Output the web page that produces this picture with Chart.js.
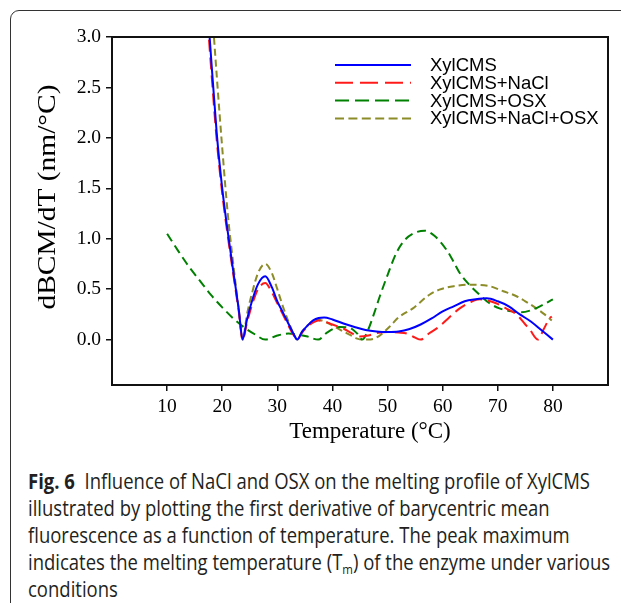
<!DOCTYPE html>
<html>
<head>
<meta charset="utf-8">
<script src="https://cdn.jsdelivr.net/npm/chart.js@4.4.1/dist/chart.umd.min.js"></script>
<style>
html,body{margin:0;padding:0;background:#fff;width:621px;height:603px;overflow:hidden;}
#frame{position:absolute;left:10px;top:10px;width:700px;height:640px;border:1px solid #333;border-radius:9px;box-sizing:border-box;}
#chartBox{position:absolute;left:0;top:0;width:621px;height:460px;}
#caption{position:absolute;left:28px;top:468px;font-family:"Open Sans",sans-serif;font-size:21px;line-height:27px;color:#231f20;white-space:nowrap;transform-origin:0 0;}
#caption div{white-space:nowrap;}
#caption sub{font-size:0.62em;line-height:0;vertical-align:-0.3em;}
</style>
</head>
<body>
<div id="frame"></div>
<div id="chartBox"><canvas id="c"></canvas></div>
<div id="caption">
<div><span id="l1"><b>Fig. 6</b>&nbsp; Influence of NaCl and OSX on the melting profile of XylCMS</span></div>
<div>illustrated by plotting the first derivative of barycentric mean</div>
<div>fluorescence as a function of temperature. The peak maximum</div>
<div>indicates the melting temperature (T<sub>m</sub>) of the enzyme under various</div>
<div>conditions</div>
</div>
<script>
// ---- data ----
const xTicks = [10, 20, 30, 40, 50, 60, 70, 80];
const yTicks = [0, 0.5, 1.0, 1.5, 2.0, 2.5, 3.0];
const seriesNames = ['XylCMS', 'XylCMS+NaCl', 'XylCMS+OSX', 'XylCMS+NaCl+OSX'];
const xTitle = 'Temperature (°C)';
const yTitle = 'dBCM/dT (nm/°C)';

const tBlue = [16,17,18,19,20,21,22,23,23.7,24.5,25.5,26.5,27.8,29,30,31,32,33,33.6,34.5,35.5,36.5,37.5,38.5,40,42,44,46,48,50,52,54,56,58,60,62,64,66,68,70,72,74,76,78,80];
const vBlue = [4.3,3.55,2.78,2.05,1.5,1.07,0.68,0.3,0.0,0.2,0.4,0.55,0.627,0.52,0.38,0.27,0.16,0.05,0.0,0.08,0.14,0.19,0.215,0.22,0.2,0.16,0.125,0.095,0.08,0.075,0.08,0.105,0.15,0.21,0.28,0.33,0.38,0.40,0.41,0.38,0.33,0.25,0.18,0.09,0.0];

const tRed = [16,17,18,19,20,21,22,23,23.7,24.5,25.5,26.5,27.8,29,30,31,32,33,33.6,34.5,35.5,36.5,37.4,38.5,40,41,42,43.4,44.9,46.5,48,50,52,53.5,55,56,57.5,59.4,61,63.1,65,66.7,68,69.7,71.5,73.4,75,75.8,77.3,78.3,79.4,79.8];
const vRed = [4.4,3.45,2.68,1.98,1.45,1.03,0.65,0.28,0.0,0.17,0.36,0.50,0.56,0.47,0.36,0.25,0.14,0.04,0.0,0.07,0.13,0.17,0.19,0.18,0.15,0.13,0.11,0.066,0.03,0.04,0.065,0.075,0.07,0.06,0.02,0.0,0.06,0.13,0.21,0.31,0.37,0.40,0.39,0.36,0.31,0.25,0.15,0.1,0.0,0.1,0.21,0.23];

const tGreen = [10,12,14,16,18,20,22,24,26,27.8,30,32,33.6,35.5,37.4,39,41.3,43,44.5,45.4,46.5,47.5,48.6,50,51.6,53,54.6,56.7,58.5,60.7,62,63.1,64.9,66.7,68.5,70.3,72.5,74.3,76,78,80];
const vGreen = [1.05,0.88,0.72,0.58,0.44,0.32,0.21,0.12,0.05,0.0,0.04,0.06,0.05,0.03,0.0,0.07,0.125,0.12,0.06,0.0,0.1,0.25,0.43,0.64,0.86,0.98,1.05,1.08,1.03,0.89,0.77,0.66,0.54,0.445,0.36,0.31,0.28,0.27,0.29,0.34,0.40];

const tOlive = [17,18,19,20,21,22,23,23.7,24.5,25.5,26.5,27.8,29,30,31,32,33,33.6,34.5,35.5,36.3,37.1,38.5,40.7,42,43.1,44.5,45.3,46.5,48,50.4,52,54.6,57.6,59.4,62,64.9,68.5,71,73.4,75,77,78.5,79.8];
const vOlive = [4.3,3.4,2.62,1.9,1.25,0.75,0.3,0.0,0.25,0.48,0.66,0.75,0.66,0.50,0.33,0.18,0.05,0.0,0.08,0.14,0.18,0.2,0.18,0.12,0.08,0.05,0.01,0.0,0.0,0.02,0.13,0.22,0.31,0.445,0.495,0.53,0.545,0.53,0.48,0.43,0.38,0.31,0.25,0.19];

// ---- build ----
const zip = (xs, ys) => xs.map((x, i) => ({x: x, y: ys[i]}));
const colors = ['#0000ff', '#ff1a1a', '#008000', '#8c8c28'];
const dashes = [[], [12, 6], [9, 5], [7, 4]];
const legendDashes = [[], [18, 7], [14, 6], [9, 4.4]];
const series = [[tBlue, vBlue], [tRed, vRed], [tGreen, vGreen], [tOlive, vOlive]];

const datasets = series.map((s, i) => ({
  label: seriesNames[i],
  data: zip(s[0], s[1]),
  borderColor: colors[i],
  borderDash: dashes[i],
  borderWidth: 2,
  pointRadius: 0,
  fill: false,
  cubicInterpolationMode: 'monotone'
}));

const serif = '"Liberation Serif", "Times New Roman", serif';

const extras = {
  id: 'extras',
  afterDraw(chart) {
    const ctx = chart.ctx, a = chart.chartArea;
    ctx.save();
    // full frame
    ctx.setLineDash([]);
    ctx.strokeStyle = '#111';
    ctx.lineWidth = 2;
    ctx.strokeRect(a.left, a.top, a.right - a.left, a.bottom - a.top);
    // legend
    const lx0 = a.left + 223, lx1 = a.left + 299, tx = a.left + 318;
    chart.data.datasets.forEach((ds, i) => {
      const y = a.top + 28 + i * 17.8;
      ctx.beginPath();
      ctx.setLineDash(legendDashes[i]);
      ctx.strokeStyle = ds.borderColor;
      ctx.lineWidth = 2;
      ctx.moveTo(lx0, y);
      ctx.lineTo(lx1, y);
      ctx.stroke();
      ctx.setLineDash([]);
      ctx.fillStyle = '#000';
      ctx.font = '18.5px "Liberation Sans", Arial, sans-serif';
      ctx.textAlign = 'left';
      ctx.textBaseline = 'alphabetic';
      ctx.fillText(ds.label, tx, y + 6);
    });
    // x title
    ctx.fillStyle = '#000';
    ctx.font = '23px ' + serif;
    ctx.textAlign = 'center';
    ctx.textBaseline = 'alphabetic';
    ctx.fillText(xTitle, 370, 438);
    // y title
    ctx.save();
    ctx.translate(48, 197);
    ctx.rotate(-Math.PI / 2);
    ctx.font = '25px ' + serif;
    const w = ctx.measureText(yTitle).width;
    ctx.scale(225 / w, 1);
    ctx.textAlign = 'center';
    ctx.textBaseline = 'middle';
    ctx.fillText(yTitle, 0, 0);
    ctx.restore();
    ctx.restore();
  }
};

new Chart(document.getElementById('c'), {
  type: 'line',
  data: {datasets: datasets},
  options: {
    responsive: true,
    maintainAspectRatio: false,
    animation: false,
    layout: {padding: {left: 0, right: 13, top: 37, bottom: 0}},
    plugins: {legend: {display: false}, tooltip: {enabled: false}},
    scales: {
      x: {
        type: 'linear', min: 0, max: 90,
        afterBuildTicks: s => { s.ticks = xTicks.map(v => ({value: v})); },
        afterFit: s => { s.height = 75; },
        grid: {drawOnChartArea: false, drawTicks: true, tickLength: 6, color: '#111', lineWidth: 1.5},
        border: {display: true, color: '#111', width: 2},
        ticks: {color: '#000', font: {family: serif, size: 19.5}, padding: 4, maxRotation: 0, autoSkip: false, callback: v => String(v)}
      },
      y: {
        type: 'linear', min: -0.45, max: 3.0,
        afterBuildTicks: s => { s.ticks = yTicks.map(v => ({value: v})); },
        afterFit: s => { s.width = 112; },
        grid: {drawOnChartArea: false, drawTicks: true, tickLength: 6, color: '#111', lineWidth: 1.5},
        border: {display: true, color: '#111', width: 2},
        ticks: {color: '#000', font: {family: serif, size: 19.5}, padding: 5, autoSkip: false, callback: v => Number(v).toFixed(1)}
      }
    }
  },
  plugins: [extras]
});

// fit caption width to reference (first line spans ~562px)
(function () {
  const cap = document.getElementById('caption');
  const l1 = document.getElementById('l1');
  const w = l1.getBoundingClientRect().width;
  cap.style.transform = 'scaleX(' + (562 / w) + ')';
})();
</script>
</body>
</html>
